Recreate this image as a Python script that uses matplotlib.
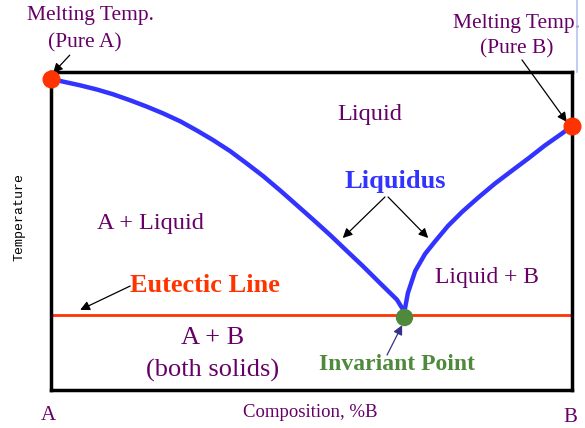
'''
    Binary eutectic phase diagram: liquidus curves, eutectic line,
    melting points of the pure components and the invariant point.
'''

import matplotlib
matplotlib.use('Agg')
import matplotlib.pyplot as plt

# Composition is %B, temperature in arbitrary units (0 = bottom of frame)
_LEFT_COMP = [0, 1.7, 5.6, 8.8, 11.9, 15.2, 18.4, 21.5, 24.8, 28.0, 31.1,
              34.4, 37.6, 40.7, 43.95, 47.2, 50.3, 53.6, 56.8, 59.9, 63.1,
              66.4, 67.6, 67.8]
_LEFT_TEMP = [97.8, 97.2, 95.8, 94.5, 93.0, 91.1, 89.1, 87.0, 84.5, 81.6, 78.6,
              75.1, 71.2, 67.3, 62.8, 58.1, 53.6, 48.7, 43.7, 38.9, 33.7,
              28.4, 25.2, 23.6]
_RIGHT_COMP = [67.8, 67.9, 68.5, 69.9, 71.8, 73.7, 76.2, 78.9, 82.0, 85.2,
               88.5, 91.6, 94.8, 98.1, 100]
_RIGHT_TEMP = [23.6, 25.2, 30.5, 37.4, 42.8, 46.7, 51.6, 56.0, 60.5, 64.9,
               69.0, 72.8, 76.9, 80.7, 83.0]
_EUTECTIC_T = 23.6
_EUTECTIC_C = 67.8
_MELT_A = 97.8
_MELT_B = 83.0

_PURPLE = '#660066'
_BLUE = '#3333ff'
_RED = '#ff3300'
_GREEN = '#4f8a3c'
_SERIF = 'Liberation Serif'


def add_arrow(ax, start, end, color='black'):
    ''' Thin annotation arrow between two points given in data coords '''
    ax.annotate('', xy=end, xytext=start, annotation_clip=False,
                arrowprops=dict(arrowstyle='-|>', color=color, lw=0.9,
                                mutation_scale=14, shrinkA=0, shrinkB=0))


def label(ax, x, y, s, size, color=_PURPLE, weight='normal', **kw):
    ''' Centred serif text, allowed to sit outside the frame '''
    ax.text(x, y, s, family=_SERIF, color=color, fontsize=size,
            fontweight=weight, ha='center', va='center', clip_on=False, **kw)


fig = plt.figure(figsize=(5.85, 4.28), dpi=100)
ax = fig.add_axes([51/585, 38/428, 521/585, 318/428])
ax.set_xlim(0, 100)
ax.set_ylim(0, 100)
ax.set_xticks([])
ax.set_yticks([])
for s in ax.spines.values():
    s.set_linewidth(2.5)
    s.set_color('black')

# Curves
ax.plot(_LEFT_COMP, _LEFT_TEMP, color=_BLUE, lw=3.2, solid_capstyle='round',
        solid_joinstyle='round', zorder=3)
ax.plot(_RIGHT_COMP, _RIGHT_TEMP, color=_BLUE, lw=3.2, solid_capstyle='round',
        solid_joinstyle='round', zorder=3)
ax.plot([0.4, 99.6], [_EUTECTIC_T, _EUTECTIC_T], color=_RED, lw=2, zorder=2)

# Special points
ax.plot([0], [_MELT_A], 'o', color=_RED, ms=12, clip_on=False, zorder=5)
ax.plot([100], [_MELT_B], 'o', color=_RED, ms=12, clip_on=False, zorder=5)
ax.plot([_EUTECTIC_C], [_EUTECTIC_T - 0.6], 'o', color=_GREEN, ms=11.5,
        clip_on=False, zorder=5)

# Region labels
label(ax, 61.2, 86.5, 'Liquid', 17.5)
label(ax, 19.0, 52.5, 'A + Liquid', 17.5)
label(ax, 83.7, 35.5, 'Liquid + B', 17)
label(ax, 31.1, 16.4, 'A + B', 19)
label(ax, 31.1, 6.3, '(both solids)', 19)

label(ax, 66.0, 65.5, 'Liquidus', 19, color=_BLUE, weight='bold')
add_arrow(ax, (64.1, 60.7), (56.0, 47.8))
add_arrow(ax, (64.7, 60.7), (72.4, 47.8))

label(ax, 29.6, 33.0, 'Eutectic Line', 19, color=_RED, weight='bold')
add_arrow(ax, (15.2, 32.7), (5.6, 25.2))

label(ax, 66.4, 7.9, 'Invariant Point', 17, color=_GREEN, weight='bold')
add_arrow(ax, (64.5, 11.0), (67.4, 20.4), color='#333388')

# Melting point labels (above the frame)
label(ax, 7.5, 117.9, 'Melting Temp.', 15.5)
label(ax, 6.5, 109.1, '(Pure A)', 15.5)
add_arrow(ax, (3.6, 105.3), (0.4, 99.7))
label(ax, 89.4, 115.4, 'Melting Temp.', 15.5)
label(ax, 89.3, 107.2, '(Pure B)', 15.5)
add_arrow(ax, (90.4, 103.8), (99.0, 84.3))

# Axis labels
label(ax, -0.6, -7.9, 'A', 15)
label(ax, 99.6, -8.8, 'B', 15)
label(ax, 49.7, -7.2, 'Composition, %B', 13.5)
ax.text(-6.0, 54.4, 'Temperature', family='Liberation Mono', color='black',
        fontsize=9.5, rotation=90, ha='center', va='center', clip_on=False)

# Faint vertical rule at the top right edge of the slide
fig.add_artist(plt.Line2D([577/585, 577/585], [1.0, 1 - 72/428],
                          transform=fig.transFigure, color='#b8c4f0', lw=1.2))

fig.savefig('out.png', dpi=100)
